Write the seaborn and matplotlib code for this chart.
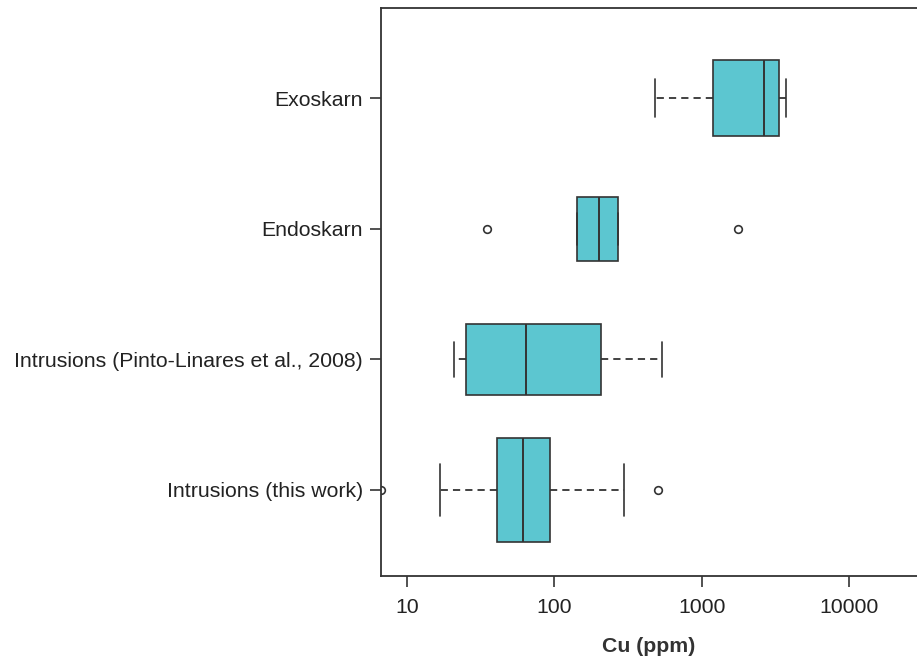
import numpy as np
import pandas as pd
import matplotlib
matplotlib.use("Agg")
import matplotlib.pyplot as plt
import seaborn as sns

# ---- data ----
categories = ["Exoskarn", "Endoskarn",
              "Intrusions (Pinto-Linares et al., 2008)",
              "Intrusions (this work)"]
exoskarn = [481, 1186, 2645, 3345, 3757]
endoskarn = [35, 142, 200, 271, 1778]
pinto_linares = [20.9, 25, 64, 209, 535]
this_work = [6.7, 16.8, 40.6, 50, 61.6, 75, 94, 299, 508]
x_ticks = [10, 100, 1000, 10000]
x_tick_labels = ["10", "100", "1000", "10000"]
x_label = "Cu (ppm)"

values = [exoskarn, endoskarn, pinto_linares, this_work]
# relative box heights (variable width boxes)
box_widths = [0.58, 0.49, 0.54, 0.80]

df = pd.DataFrame({
    "group": np.concatenate([[c] * len(v) for c, v in zip(categories, values)]),
    "Cu": np.concatenate(values).astype(float),
})

sns.set_theme(style="ticks")
plt.rcParams["font.family"] = ["Liberation Sans", "DejaVu Sans"]

fill = "#5cc6d0"
line = "#333333"

fig = plt.figure(figsize=(9.17, 6.66), dpi=100)
ax = fig.add_axes([381 / 917, 1 - 576 / 666, 1 - 381 / 917, (576 - 8) / 666])

for cat, w in zip(categories, box_widths):
    sns.boxplot(
        data=df[df["group"] == cat], x="Cu", y="group", order=categories,
        width=w, log_scale=True, color=fill, saturation=1,
        linecolor=line, linewidth=1.2, whis=1.5,
        whiskerprops=dict(linestyle=(0, (4, 2.8)), linewidth=1.3),
        medianprops=dict(color=line, linewidth=1.4),
        flierprops=dict(marker="o", markerfacecolor="none",
                        markeredgecolor=line, markersize=5.5,
                        markeredgewidth=1.2),
        ax=ax,
    )

ax.set_xscale("log")
ax.set_xlim(6.66, 29000)
ax.set_ylim(3.66, -0.69)
ax.set_xticks(x_ticks)
ax.set_xticklabels(x_tick_labels)
ax.xaxis.set_minor_locator(matplotlib.ticker.NullLocator())
ax.set_ylabel("")
ax.set_xlabel(x_label, fontsize=15.3, fontweight="bold", color="#333333", labelpad=14)

ax.tick_params(axis="x", length=8, width=1.2, colors=line, labelsize=15.3, pad=8, labelcolor="#222222")
ax.tick_params(axis="y", length=8, width=1.2, colors=line, labelsize=15.3, pad=5, labelcolor="#222222")

for side in ["left", "bottom", "top"]:
    ax.spines[side].set_visible(True)
    ax.spines[side].set_color(line)
    ax.spines[side].set_linewidth(1.3)
ax.spines["right"].set_visible(False)

fig.savefig("out.png", dpi=100, facecolor="white")
